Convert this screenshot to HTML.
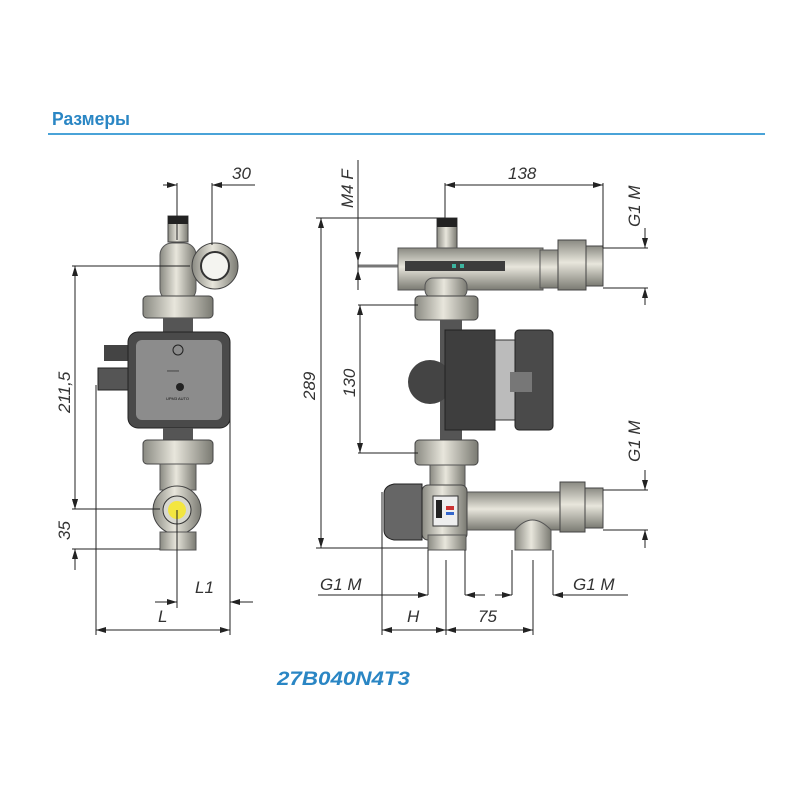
<!DOCTYPE html>
<html><head><meta charset="utf-8"><style>
html,body{margin:0;padding:0;background:#fff;width:800px;height:800px;overflow:hidden}
svg{display:block}
.d{stroke:#222;stroke-width:1;fill:none}
.t{font-family:"Liberation Sans",sans-serif;font-style:italic;font-size:17px;fill:#333}
</style></head><body>
<svg width="800" height="800" viewBox="0 0 800 800" xmlns="http://www.w3.org/2000/svg">
<defs>
<linearGradient id="m" x1="0" x2="1"><stop offset="0" stop-color="#8a8a82"/><stop offset=".45" stop-color="#e8e6dc"/><stop offset="1" stop-color="#7a7a72"/></linearGradient>
<linearGradient id="mv" x1="0" y1="0" x2="0" y2="1"><stop offset="0" stop-color="#8a8a82"/><stop offset=".45" stop-color="#e8e6dc"/><stop offset="1" stop-color="#7a7a72"/></linearGradient>
<marker id="a" markerWidth="10" markerHeight="6" refX="10" refY="3" orient="auto-start-reverse"><path d="M0,0L10,3L0,6z" fill="#222"/></marker>
</defs>
<text x="52" y="125" font-family="Liberation Sans Narrow,Liberation Sans,sans-serif" font-weight="bold" font-size="18" fill="#2a86c4" textLength="78" lengthAdjust="spacingAndGlyphs">Размеры</text>
<line x1="48" y1="134" x2="765" y2="134" stroke="#4aa3d8" stroke-width="2"/>

<!-- LEFT ASSEMBLY -->
<rect x="168" y="216" width="20" height="26" fill="url(#m)" stroke="#444"/>
<rect x="168" y="216" width="20" height="8" fill="#222"/>
<rect x="160" y="243" width="36" height="58" rx="12" fill="url(#m)" stroke="#555"/>
<circle cx="215" cy="266" r="23" fill="url(#m)" stroke="#444"/>
<circle cx="215" cy="266" r="14" fill="#f4f4f0" stroke="#333" stroke-width="2"/>
<rect x="143" y="296" width="70" height="22" rx="4" fill="url(#m)" stroke="#444"/>
<rect x="163" y="318" width="30" height="14" fill="#555"/>
<rect x="104" y="345" width="24" height="16" fill="#444"/>
<rect x="98" y="368" width="30" height="22" fill="#555" stroke="#222"/>
<rect x="128" y="332" width="102" height="96" rx="10" fill="#4a4a4a" stroke="#222"/>
<rect x="136" y="340" width="86" height="80" rx="6" fill="#8c8c8c"/>
<circle cx="178" cy="350" r="5" fill="none" stroke="#222"/>
<circle cx="180" cy="387" r="4" fill="#222"/>
<text x="167" y="372" font-size="3" font-family="Liberation Sans" fill="#111">XXXXXX</text>
<text x="166" y="400" font-size="4" font-family="Liberation Sans" fill="#111">UPM3 AUTO</text>
<rect x="163" y="428" width="30" height="12" fill="#555"/>
<rect x="143" y="440" width="70" height="24" rx="4" fill="url(#m)" stroke="#444"/>
<rect x="160" y="464" width="36" height="26" fill="url(#m)" stroke="#555"/>
<circle cx="177" cy="510" r="24" fill="url(#m)" stroke="#444"/>
<circle cx="177" cy="510" r="14" fill="#d8d8d0" stroke="#333"/>
<circle cx="177" cy="510" r="9" fill="#f3e640"/>
<rect x="160" y="532" width="36" height="18" fill="url(#m)" stroke="#555"/>

<!-- left dims -->
<line class="d" x1="177" y1="183" x2="177" y2="240"/>
<line class="d" x1="212" y1="183" x2="212" y2="245"/>
<line class="d" x1="163" y1="185" x2="177" y2="185" marker-end="url(#a)"/>
<line class="d" x1="255" y1="185" x2="212" y2="185" marker-end="url(#a)"/>
<text class="t" x="232" y="179">30</text>
<line class="d" x1="72" y1="266" x2="190" y2="266"/>
<line class="d" x1="72" y1="509" x2="160" y2="509"/>
<line class="d" x1="72" y1="549" x2="160" y2="549"/>
<line class="d" x1="75" y1="266" x2="75" y2="509" marker-start="url(#a)" marker-end="url(#a)"/>
<line class="d" x1="75" y1="490" x2="75" y2="509" marker-end="url(#a)"/>
<line class="d" x1="75" y1="570" x2="75" y2="549" marker-end="url(#a)"/>
<text class="t" transform="translate(70,413) rotate(-90)">211,5</text>
<text class="t" transform="translate(70,540) rotate(-90)">35</text>
<line class="d" x1="177" y1="510" x2="177" y2="608"/>
<line class="d" x1="230" y1="385" x2="230" y2="635"/>
<line class="d" x1="96" y1="385" x2="96" y2="635"/>
<line class="d" x1="155" y1="602" x2="177" y2="602" marker-end="url(#a)"/>
<line class="d" x1="253" y1="602" x2="230" y2="602" marker-end="url(#a)"/>
<text class="t" x="195" y="593">L1</text>
<line class="d" x1="96" y1="630" x2="230" y2="630" marker-start="url(#a)" marker-end="url(#a)"/>
<text class="t" x="158" y="622">L</text>

<!-- RIGHT ASSEMBLY -->
<line x1="358" y1="266" x2="398" y2="266" stroke="#777" stroke-width="3"/>
<rect x="437" y="218" width="20" height="30" fill="url(#m)" stroke="#444"/>
<rect x="437" y="218" width="20" height="9" fill="#222"/>
<rect x="398" y="248" width="145" height="42" fill="url(#mv)" stroke="#555"/>
<rect x="405" y="261" width="100" height="10" fill="#3c3c3c"/>
<rect x="452" y="264" width="4" height="4" fill="#3cb4a0"/><rect x="460" y="264" width="4" height="4" fill="#3cb4a0"/>
<rect x="540" y="250" width="18" height="38" fill="url(#mv)" stroke="#555"/>
<rect x="558" y="240" width="28" height="50" fill="url(#mv)" stroke="#444"/>
<rect x="586" y="246" width="17" height="40" fill="url(#mv)" stroke="#444"/>
<rect x="425" y="278" width="42" height="20" rx="8" fill="url(#m)" stroke="#555"/>
<rect x="415" y="296" width="63" height="24" rx="4" fill="url(#m)" stroke="#444"/>
<path d="M440 320 h22 v120 h-22 z" fill="#555"/>
<circle cx="430" cy="382" r="22" fill="#444"/>
<rect x="445" y="330" width="50" height="100" fill="#3e3e3e" stroke="#222"/>
<rect x="495" y="340" width="20" height="80" fill="#bbb" stroke="#333"/>
<rect x="515" y="330" width="38" height="100" rx="4" fill="#4a4a4a" stroke="#222"/>
<rect x="510" y="372" width="22" height="20" fill="#777"/>
<rect x="415" y="440" width="63" height="25" rx="4" fill="url(#m)" stroke="#444"/>
<rect x="430" y="465" width="35" height="25" fill="url(#m)" stroke="#555"/>
<rect x="465" y="492" width="100" height="38" fill="url(#mv)" stroke="#555"/>
<rect x="560" y="482" width="25" height="50" fill="url(#mv)" stroke="#444"/>
<rect x="585" y="488" width="18" height="40" fill="url(#mv)" stroke="#444"/>
<rect x="422" y="485" width="45" height="55" rx="6" fill="url(#m)" stroke="#444"/>
<rect x="433" y="496" width="25" height="30" fill="#eee" stroke="#333"/>
<rect x="436" y="500" width="6" height="18" fill="#222"/><rect x="446" y="506" width="8" height="4" fill="#c33"/><rect x="446" y="512" width="8" height="3" fill="#36c"/>
<path d="M384 494 q0 -8 10 -10 h28 v56 h-28 q-10 -2 -10 -10z" fill="#666" stroke="#222"/>
<rect x="428" y="535" width="38" height="15" fill="url(#m)" stroke="#555"/>
<path d="M515 530 q17 -20 36 0 v20 h-36z" fill="url(#m)" stroke="#555"/>

<!-- right dims -->
<line class="d" x1="445" y1="183" x2="445" y2="218"/>
<line class="d" x1="603" y1="183" x2="603" y2="248"/>
<line class="d" x1="445" y1="185" x2="603" y2="185" marker-start="url(#a)" marker-end="url(#a)"/>
<text class="t" x="508" y="179">138</text>
<line class="d" x1="358" y1="160" x2="358" y2="288"/>
<line class="d" x1="358" y1="240" x2="358" y2="262" marker-end="url(#a)"/>
<line class="d" x1="358" y1="290" x2="358" y2="270" marker-end="url(#a)"/>
<text class="t" transform="translate(353,208) rotate(-90)">M4 F</text>
<line class="d" x1="316" y1="218" x2="445" y2="218"/>
<line class="d" x1="316" y1="548" x2="428" y2="548"/>
<line class="d" x1="321" y1="218" x2="321" y2="548" marker-start="url(#a)" marker-end="url(#a)"/>
<text class="t" transform="translate(315,400) rotate(-90)">289</text>
<line class="d" x1="358" y1="305" x2="418" y2="305"/>
<line class="d" x1="358" y1="453" x2="418" y2="453"/>
<line class="d" x1="360" y1="305" x2="360" y2="453" marker-start="url(#a)" marker-end="url(#a)"/>
<text class="t" transform="translate(355,397) rotate(-90)">130</text>
<line class="d" x1="603" y1="248" x2="648" y2="248"/>
<line class="d" x1="603" y1="288" x2="648" y2="288"/>
<line class="d" x1="645" y1="228" x2="645" y2="248" marker-end="url(#a)"/>
<line class="d" x1="645" y1="305" x2="645" y2="288" marker-end="url(#a)"/>
<text class="t" transform="translate(640,227) rotate(-90)">G1 M</text>
<line class="d" x1="603" y1="490" x2="648" y2="490"/>
<line class="d" x1="603" y1="530" x2="648" y2="530"/>
<line class="d" x1="645" y1="470" x2="645" y2="490" marker-end="url(#a)"/>
<line class="d" x1="645" y1="548" x2="645" y2="530" marker-end="url(#a)"/>
<text class="t" transform="translate(640,462) rotate(-90)">G1 M</text>
<line class="d" x1="428" y1="550" x2="428" y2="595"/>
<line class="d" x1="465" y1="550" x2="465" y2="595"/>
<line class="d" x1="512" y1="550" x2="512" y2="595"/>
<line class="d" x1="553" y1="550" x2="553" y2="595"/>
<line class="d" x1="318" y1="595" x2="428" y2="595" marker-end="url(#a)"/>
<line class="d" x1="485" y1="595" x2="465" y2="595" marker-end="url(#a)"/>
<line class="d" x1="495" y1="595" x2="512" y2="595" marker-end="url(#a)"/>
<line class="d" x1="628" y1="595" x2="553" y2="595" marker-end="url(#a)"/>
<text class="t" x="320" y="590">G1 M</text>
<text class="t" x="573" y="590">G1 M</text>
<line class="d" x1="382" y1="492" x2="382" y2="635"/>
<line class="d" x1="446" y1="560" x2="446" y2="635"/>
<line class="d" x1="533" y1="560" x2="533" y2="635"/>
<line class="d" x1="382" y1="630" x2="446" y2="630" marker-start="url(#a)" marker-end="url(#a)"/>
<line class="d" x1="446" y1="630" x2="533" y2="630" marker-start="url(#a)" marker-end="url(#a)"/>
<text class="t" x="407" y="622">H</text>
<text class="t" x="478" y="622">75</text>

<text x="277" y="685" font-family="Liberation Sans,sans-serif" font-weight="bold" font-style="italic" font-size="19" fill="#2a86c4" textLength="133" lengthAdjust="spacingAndGlyphs">27B040N4T3</text>
</svg>
</body></html>
